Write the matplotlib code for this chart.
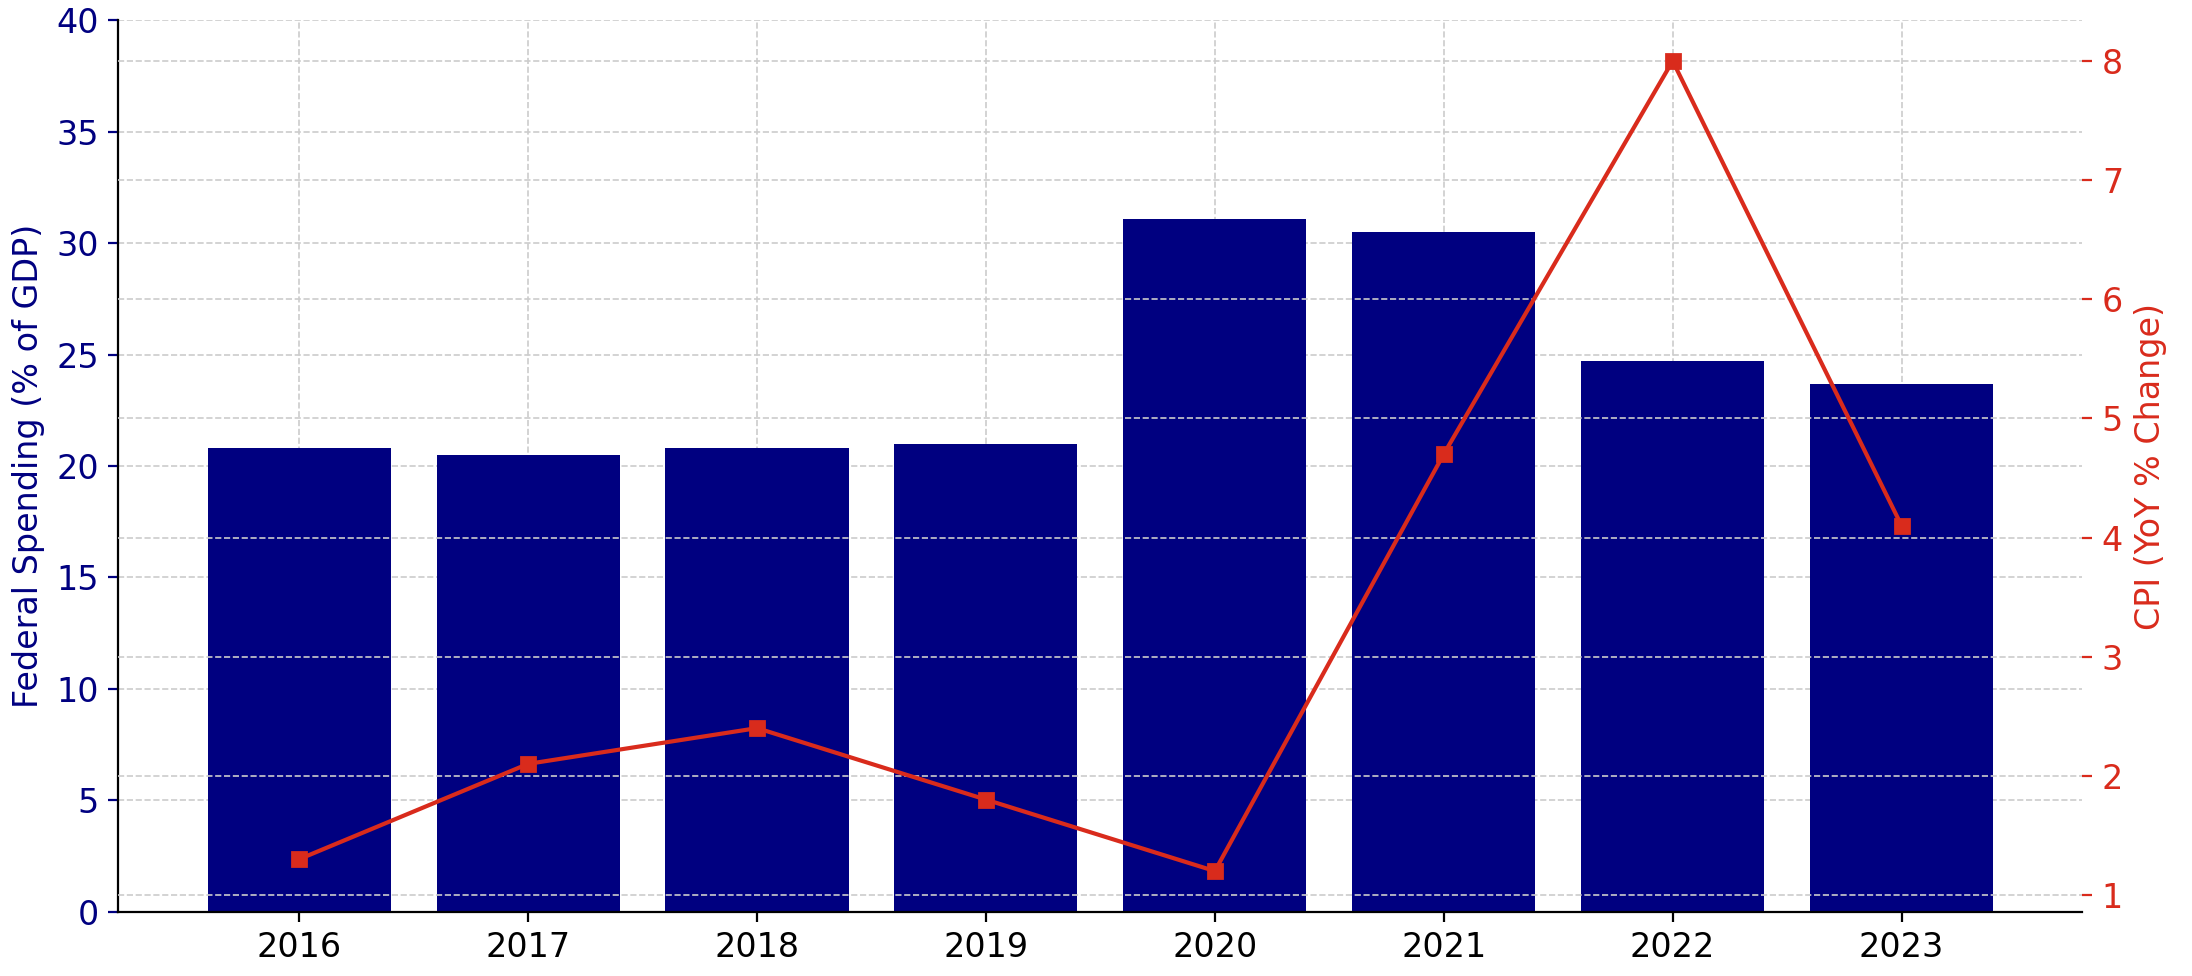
import matplotlib
matplotlib.use("Agg")
import matplotlib.pyplot as plt

years = ["2016", "2017", "2018", "2019", "2020", "2021", "2022", "2023"]
spending = [20.8, 20.5, 20.8, 21.0, 31.1, 30.5, 24.7, 23.7]
cpi = [1.3, 2.1, 2.4, 1.8, 1.2, 4.7, 8.0, 4.1]

navy = "#000080"
red = "#d92b1c"

fig = plt.figure(figsize=(10.96, 4.88), dpi=200)
ax = fig.add_axes([0.054, 0.066, 0.896, 0.913])
x = list(range(len(years)))
ax.bar(x, spending, width=0.8, color=navy, zorder=2)
ax.set_ylim(0, 40)
ax.set_xticks(x)
ax.set_xticklabels(years)
ax.set_xlabel("Year", fontsize=12)
ax.set_ylabel("Federal Spending (% of GDP)", color=navy, fontsize=12)
ax.tick_params(axis="y", colors=navy, labelsize=12)
ax.tick_params(axis="x", labelsize=12)
ax.grid(True, linestyle="--", color="#cccccc", linewidth=0.6, zorder=0)
ax.set_axisbelow(True)
for s in ["top", "right"]:
    ax.spines[s].set_visible(False)

ax2 = ax.twinx()
ax2.plot(x, cpi, color=red, marker="s", markersize=5, linewidth=1.5)
ax2.set_ylabel("CPI (YoY % Change)", color=red, fontsize=12)
ax2.tick_params(axis="y", colors=red, labelsize=12)
ax2.grid(True, axis="y", linestyle="--", color="#cccccc", linewidth=0.6)
for s in ["top", "right", "left", "bottom"]:
    ax2.spines[s].set_visible(False)

fig.savefig("out.png", dpi=200)
